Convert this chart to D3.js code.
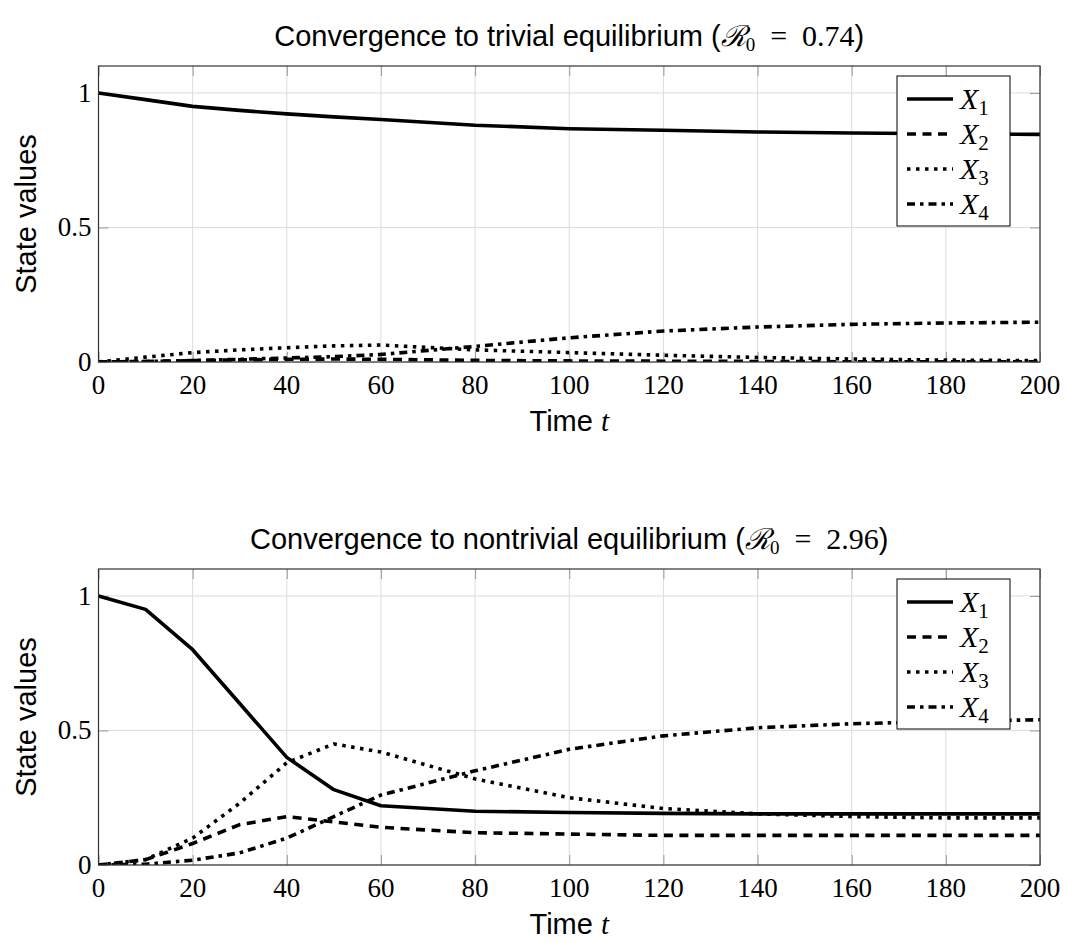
<!DOCTYPE html>
<html>
<head>
	<title>Convergence plots in D3</title>
	<script src="https://d3js.org/d3.v7.min.js"></script>
	<style>
		body { margin: 0; background: #fff; }
		.tick-label { font-family: "Liberation Serif", "DejaVu Serif", serif; font-size: 27px; fill: #000; }
		.title, .axis-label { font-family: "Liberation Sans", Arial, sans-serif; font-size: 29px; fill: #000; }
	</style>
</head>
<body>
	<div id="plot"></div>
	<script type="text/javascript">
		// vars
		var w = 1068, h = 943;

		// data: sampled time points and the four states for each run
		const time = [0, 10, 20, 30, 40, 50, 60, 80, 100, 120, 140, 160, 180, 200];

		// run 1: R0 = 0.74
		const x1Trivial = [1, 0.975, 0.95, 0.935, 0.922, 0.911, 0.901, 0.880, 0.867, 0.861, 0.855, 0.851, 0.848, 0.846];
		const x2Trivial = [0, 0.002, 0.005, 0.008, 0.010, 0.011, 0.010, 0.006, 0.004, 0.003, 0.002, 0.001, 0.001, 0.001];
		const x3Trivial = [0, 0.018, 0.035, 0.045, 0.053, 0.060, 0.063, 0.045, 0.035, 0.025, 0.017, 0.011, 0.007, 0.005];
		const x4Trivial = [0, 0.002, 0.005, 0.010, 0.015, 0.020, 0.028, 0.058, 0.090, 0.115, 0.130, 0.140, 0.145, 0.148];

		// run 2: R0 = 2.96
		const x1Nontrivial = [1, 0.95, 0.80, 0.60, 0.40, 0.28, 0.22, 0.20, 0.195, 0.192, 0.19, 0.19, 0.19, 0.19];
		const x2Nontrivial = [0, 0.02, 0.08, 0.15, 0.18, 0.16, 0.14, 0.12, 0.115, 0.11, 0.11, 0.11, 0.11, 0.11];
		const x3Nontrivial = [0, 0.02, 0.10, 0.23, 0.38, 0.45, 0.42, 0.32, 0.25, 0.21, 0.19, 0.18, 0.175, 0.175];
		const x4Nontrivial = [0, 0.003, 0.018, 0.045, 0.10, 0.18, 0.26, 0.35, 0.43, 0.48, 0.51, 0.525, 0.533, 0.54];

		// tick labels
		const xTicks = [0, 20, 40, 60, 80, 100, 120, 140, 160, 180, 200];
		const yTicks = [0, 0.5, 1];
		const seriesNames = ["1", "2", "3", "4"];

		// line styles for X1..X4: solid, dashed, dotted, dash-dot
		const dashes = [null, "9,6.5", "3.5,5.5", "8,5,3.5,5"];

		var svg = d3.select("#plot")
			.append("svg")
			.attr("width", w)
			.attr("height", h);

		function drawPanel(id, top, titleMain, r0Text, series) {
			var left = 98.5, right = 1040, bottom = top + 296;

			var xScale = d3.scaleLinear().domain([0, 200]).range([left, right]);
			var yScale = d3.scaleLinear().domain([0, 1.1]).range([bottom, top]);

			var g = svg.append("g");

			// grid
			g.append("g").selectAll("line").data(xTicks).enter().append("line")
				.attr("x1", function(d) { return xScale(d); }).attr("x2", function(d) { return xScale(d); })
				.attr("y1", top).attr("y2", bottom)
				.attr("stroke", "#dcdcdc").attr("stroke-width", 1);
			g.append("g").selectAll("line").data(yTicks).enter().append("line")
				.attr("x1", left).attr("x2", right)
				.attr("y1", function(d) { return yScale(d); }).attr("y2", function(d) { return yScale(d); })
				.attr("stroke", "#dcdcdc").attr("stroke-width", 1);

			// inward ticks on all four sides
			var tl = 10;
			var xAxisB = d3.axisBottom(xScale).tickValues(xTicks).tickSize(-tl).tickFormat("");
			var xAxisT = d3.axisTop(xScale).tickValues(xTicks).tickSize(-tl).tickFormat("");
			var yAxisL = d3.axisLeft(yScale).tickValues(yTicks).tickSize(-tl).tickFormat("");
			var yAxisR = d3.axisRight(yScale).tickValues(yTicks).tickSize(-tl).tickFormat("");
			[[xAxisB, "translate(0," + bottom + ")"], [xAxisT, "translate(0," + top + ")"],
			 [yAxisL, "translate(" + left + ",0)"], [yAxisR, "translate(" + right + ",0)"]].forEach(function(a) {
				var ax = g.append("g").attr("transform", a[1]).call(a[0]);
				ax.select(".domain").remove();
				ax.selectAll(".tick line").attr("stroke", "#999");
			});

			// clipped lines
			svg.append("clipPath").attr("id", "clip" + id)
				.append("rect").attr("x", left).attr("y", top).attr("width", right - left).attr("height", bottom - top);

			var line = d3.line()
				.x(function(d, i) { return xScale(time[i]); })
				.y(function(d) { return yScale(d); });

			g.append("g").attr("clip-path", "url(#clip" + id + ")")
				.selectAll("path").data(series).enter().append("path")
				.attr("d", function(d) { return line(d); })
				.attr("fill", "none")
				.attr("stroke", "#000")
				.attr("stroke-width", 3.6)
				.attr("stroke-linejoin", "round")
				.attr("stroke-dasharray", function(d, i) { return dashes[i]; });

			// frame
			g.append("rect").attr("x", left).attr("y", top)
				.attr("width", right - left).attr("height", bottom - top)
				.attr("fill", "none").attr("stroke", "#333").attr("stroke-width", 1.2);

			// tick labels
			g.append("g").selectAll("text").data(xTicks).enter().append("text")
				.attr("class", "tick-label")
				.attr("x", function(d) { return xScale(d); })
				.attr("y", bottom + 32)
				.attr("text-anchor", "middle")
				.text(function(d) { return d; });
			g.append("g").selectAll("text").data(yTicks).enter().append("text")
				.attr("class", "tick-label")
				.attr("x", left - 7)
				.attr("y", function(d) { return yScale(d) + 9; })
				.attr("text-anchor", "end")
				.text(function(d) { return d; });

			// legend
			var lx = 897, ly = top + 10, lw = 113, lh = 150;
			var leg = g.append("g");
			leg.append("rect").attr("x", lx).attr("y", ly).attr("width", lw).attr("height", lh)
				.attr("fill", "#fff").attr("stroke", "#000").attr("stroke-width", 1);
			seriesNames.forEach(function(s, i) {
				var yy = ly + 23 + i * 35;
				leg.append("line").attr("x1", lx + 10).attr("x2", lx + 56).attr("y1", yy).attr("y2", yy)
					.attr("stroke", "#000").attr("stroke-width", 3.6)
					.attr("stroke-dasharray", dashes[i]);
				var t = leg.append("text").attr("class", "tick-label")
					.attr("x", lx + 63).attr("y", yy + 10)
					.style("font-size", "30px");
				t.append("tspan").attr("font-style", "italic").text("X");
				t.append("tspan").attr("dy", 6).style("font-size", "21px").text(s);
			});

			// title
			var tt = g.append("text").attr("class", "title")
				.attr("x", (left + right) / 2).attr("y", top - 20)
				.attr("text-anchor", "middle");
			tt.append("tspan").text(titleMain + " (");
			tt.append("tspan").style("font-family", "DejaVu Serif, serif").style("font-style", "italic").text("\u211B");
			tt.append("tspan").attr("dy", 5).style("font-family", "Liberation Serif, serif").style("font-size", "19px").text("0");
			tt.append("tspan").attr("dy", -5).style("font-family", "Liberation Serif, serif").style("font-size", "30px")
				.text("\u2002=\u2002" + r0Text);
			tt.append("tspan").text(")");

			// axis labels
			var xl = g.append("text").attr("class", "axis-label")
				.attr("x", (left + right) / 2).attr("y", bottom + 69)
				.attr("text-anchor", "middle");
			xl.append("tspan").text("Time ");
			xl.append("tspan").style("font-family", "Liberation Serif, serif").style("font-style", "italic").style("font-size", "29px").text("t");

			g.append("text").attr("class", "axis-label")
				.attr("transform", "translate(36," + (top + bottom) / 2 + ") rotate(-90)")
				.attr("text-anchor", "middle")
				.text("State values");
		}

		drawPanel("a", 66, "Convergence to trivial equilibrium", "0.74",
			[x1Trivial, x2Trivial, x3Trivial, x4Trivial]);
		drawPanel("b", 569, "Convergence to nontrivial equilibrium", "2.96",
			[x1Nontrivial, x2Nontrivial, x3Nontrivial, x4Nontrivial]);
	</script>
</body>
</html>
